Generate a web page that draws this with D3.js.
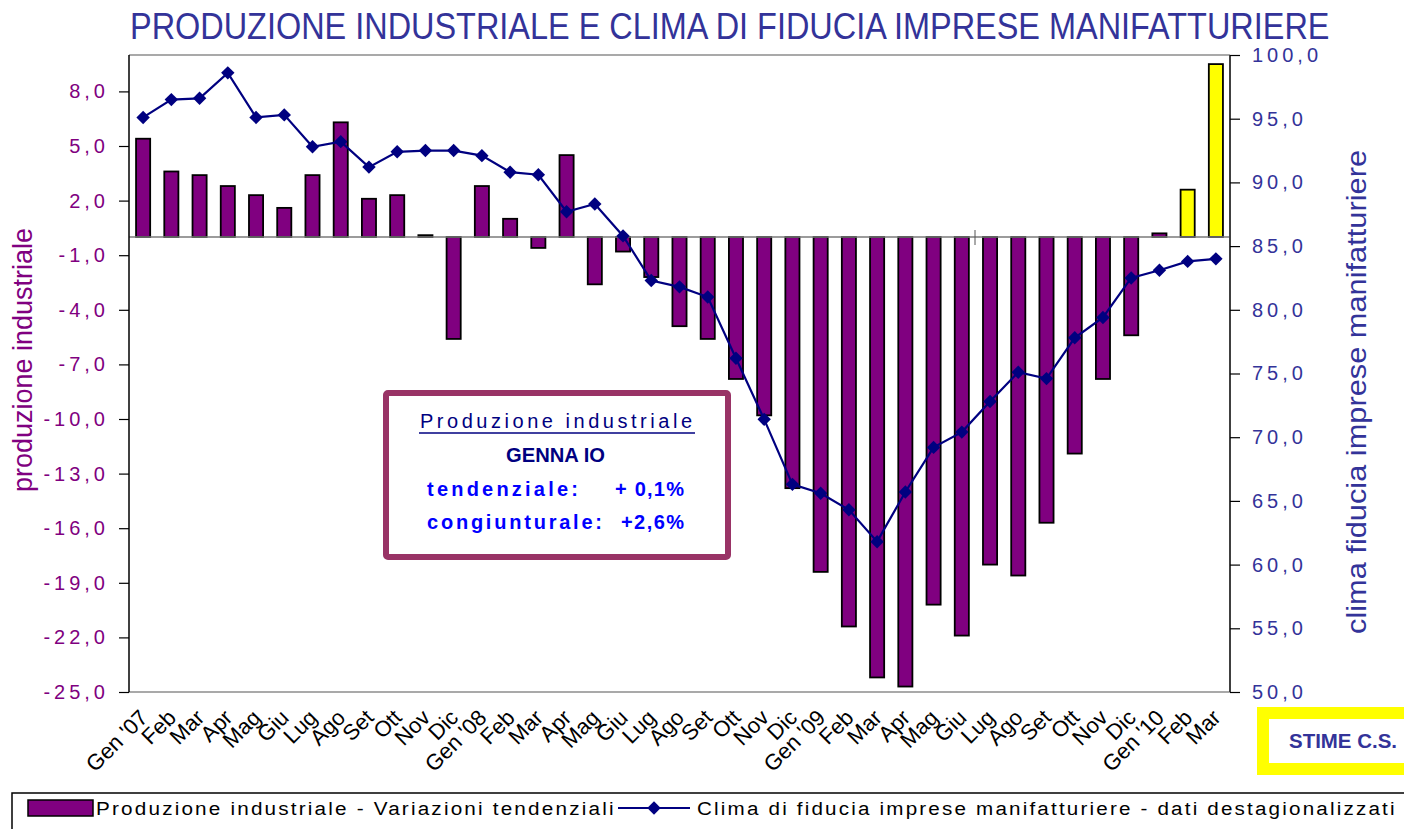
<!DOCTYPE html>
<html>
<head>
<meta charset="utf-8">
<script src="https://cdn.jsdelivr.net/npm/d3@7"></script>
<style>
  body { margin: 0; background: #fff; }
  text { font-family: "Liberation Sans", Arial, sans-serif; }
</style>
</head>
<body>
<div id="chart"></div>
<script>
// mesi (asse categorie)
const mesi = [
  "Gen '07", "Feb", "Mar", "Apr", "Mag", "Giu", "Lug", "Ago", "Set", "Ott", "Nov", "Dic",
  "Gen '08", "Feb", "Mar", "Apr", "Mag", "Giu", "Lug", "Ago", "Set", "Ott", "Nov", "Dic",
  "Gen '09", "Feb", "Mar", "Apr", "Mag", "Giu", "Lug", "Ago", "Set", "Ott", "Nov", "Dic",
  "Gen '10", "Feb", "Mar"
];

// produzione industriale - variazioni tendenziali
const produzione = [
  5.4, 3.6, 3.4, 2.8, 2.3, 1.6, 3.4, 6.3, 2.1, 2.3, 0.1, -5.6,
  2.8, 1.0, -0.6, 4.5, -2.6, -0.8, -2.2, -4.9, -5.6, -7.8, -9.8, -13.8,
  -18.4, -21.4, -24.2, -24.7, -20.2, -21.9, -18.0, -18.6, -15.7, -11.9, -7.8, -5.4,
  0.2, 2.6, 9.5
];

// clima di fiducia imprese manifatturiere
const clima = [
  95.1, 96.5, 96.6, 98.6, 95.1, 95.3, 92.8, 93.2, 91.2, 92.4, 92.5, 92.5,
  92.1, 90.8, 90.6, 87.7, 88.3, 85.8, 82.3, 81.8, 81.0, 76.2, 71.4, 66.3,
  65.6, 64.3, 61.8, 65.7, 69.2, 70.4, 72.8, 75.1, 74.6, 77.8, 79.4, 82.5,
  83.1, 83.8, 84.0
];

// ultimi due mesi sono stime C.S.
const stime = [37, 38];

const ticksSinistra = d3.range(-25, 9, 3);
const ticksDestra = d3.range(50, 101, 5);

const width = 1404, height = 829;
const plot = { left: 129, right: 1230, top: 55, bottom: 692 };

const it = d3.formatLocale({ decimal: ",", thousands: ".", grouping: [3], currency: ["", "€"], minus: "-" });
const fmt = it.format(".1f");

const svg = d3.select("#chart").append("svg")
  .attr("width", width)
  .attr("height", height);

// stringe orizzontalmente un testo fino alla larghezza voluta (font "narrow")
function fitWidth(sel, x0, y0, w) {
  const len = sel.node().getComputedTextLength();
  sel.attr("x", 0).attr("y", 0)
    .attr("transform", `translate(${x0},${y0}) scale(${w / len},1)`);
}

const x = d3.scaleBand()
  .domain(d3.range(mesi.length))
  .range([plot.left, plot.right])
  .paddingInner(0.5)
  .paddingOuter(0.25);

const yL = d3.scaleLinear().domain([-25, 10]).range([plot.bottom, plot.top]);
const yR = d3.scaleLinear().domain([50, 100]).range([plot.bottom, plot.top]);

// titolo
const titolo = svg.append("text")
  .attr("font-size", 37)
  .attr("fill", "#333399")
  .text("PRODUZIONE INDUSTRIALE E CLIMA DI FIDUCIA IMPRESE MANIFATTURIERE");
fitWidth(titolo, 130, 39, 1200);

// bordo area
svg.append("line")
  .attr("x1", plot.left).attr("x2", plot.right)
  .attr("y1", plot.top).attr("y2", plot.top)
  .attr("stroke", "#8c8c8c").attr("stroke-width", 1.5);
svg.append("line")
  .attr("x1", plot.left).attr("x2", plot.right)
  .attr("y1", plot.bottom).attr("y2", plot.bottom)
  .attr("stroke", "#8c8c8c").attr("stroke-width", 1.5);

// barre
svg.append("g")
  .selectAll("rect")
  .data(produzione)
  .join("rect")
    .attr("x", (d, i) => x(i))
    .attr("width", x.bandwidth())
    .attr("y", d => yL(Math.max(0, d)))
    .attr("height", d => Math.abs(yL(d) - yL(0)))
    .attr("fill", (d, i) => stime.includes(i) ? "#ffff00" : "#800080")
    .attr("stroke", "#000")
    .attr("stroke-width", 1.8);

// linea dello zero
svg.append("line")
  .attr("x1", plot.left).attr("x2", plot.right)
  .attr("y1", yL(0)).attr("y2", yL(0))
  .attr("stroke", "#7a7a7a").attr("stroke-width", 1.5);
svg.append("line")
  .attr("x1", 975).attr("x2", 975)
  .attr("y1", yL(0) - 7).attr("y2", yL(0) + 8)
  .attr("stroke", "#555").attr("stroke-width", 1);

// asse sinistro
svg.append("g")
  .attr("transform", `translate(${plot.left},0)`)
  .call(d3.axisLeft(yL).tickValues(ticksSinistra).tickFormat(fmt).tickSize(10).tickPadding(10))
  .call(g => g.select(".domain").attr("stroke", "#000").attr("stroke-width", 1.5).attr("d", `M0,${plot.top}V${plot.bottom}`))
  .call(g => g.selectAll(".tick line").attr("stroke", "#000").attr("stroke-width", 1.2))
  .call(g => g.selectAll(".tick text")
    .attr("fill", "#800080")
    .attr("font-size", 20)
    .style("letter-spacing", "4px")
    .style("font-family", "'Liberation Sans', sans-serif"));

// asse destro
svg.append("g")
  .attr("transform", `translate(${plot.right},0)`)
  .call(d3.axisRight(yR).tickValues(ticksDestra).tickFormat(fmt).tickSize(10).tickPadding(12))
  .call(g => g.select(".domain").attr("stroke", "#404040").attr("stroke-width", 2).attr("d", `M0,${plot.top}V${plot.bottom}`))
  .call(g => g.selectAll(".tick line").attr("stroke", "#000").attr("stroke-width", 1.2))
  .call(g => g.selectAll(".tick text")
    .attr("fill", "#333399")
    .attr("font-size", 20)
    .style("letter-spacing", "4px")
    .style("font-family", "'Liberation Sans', sans-serif"));

// etichette mesi
svg.append("g")
  .selectAll("text")
  .data(mesi)
  .join("text")
    .attr("transform", (d, i) => `translate(${x(i) + x.bandwidth() / 2 + 6},719) rotate(-45)`)
    .attr("text-anchor", "end")
    .attr("font-size", 22)
    .attr("fill", "#000")
    .text(d => d);

// linea clima
const line = d3.line()
  .x((d, i) => x(i) + x.bandwidth() / 2)
  .y(d => yR(d));

svg.append("path")
  .datum(clima)
  .attr("fill", "none")
  .attr("stroke", "#000080")
  .attr("stroke-width", 2.2)
  .attr("d", line);

svg.append("g")
  .selectAll("path")
  .data(clima)
  .join("path")
    .attr("transform", (d, i) => `translate(${x(i) + x.bandwidth() / 2},${yR(d)}) rotate(45)`)
    .attr("d", d3.symbol(d3.symbolSquare, 90))
    .attr("fill", "#000080");

// titoli assi
svg.append("text")
  .attr("transform", "translate(32,360) rotate(-90)")
  .attr("text-anchor", "middle")
  .attr("font-size", 27)
  .attr("fill", "#800080")
  .attr("textLength", 264)
  .attr("lengthAdjust", "spacingAndGlyphs")
  .text("produzione industriale");

svg.append("text")
  .attr("transform", "translate(1366,392) rotate(-90)")
  .attr("text-anchor", "middle")
  .attr("font-size", 27)
  .attr("fill", "#333399")
  .attr("textLength", 484)
  .attr("lengthAdjust", "spacingAndGlyphs")
  .text("clima fiducia imprese manifatturiere");

// riquadro dati gennaio
const box = svg.append("g");
box.append("rect")
  .attr("x", 386).attr("y", 393)
  .attr("width", 342).attr("height", 164)
  .attr("rx", 2)
  .attr("fill", "#fff")
  .attr("stroke", "#993366")
  .attr("stroke-width", 6);

box.append("text")
  .attr("x", 420).attr("y", 428)
  .attr("font-size", 20)
  .attr("fill", "#000080")
  .attr("textLength", 272)
  .attr("lengthAdjust", "spacing")
  .text("Produzione industriale");
box.append("line")
  .attr("x1", 419).attr("x2", 695)
  .attr("y1", 433).attr("y2", 433)
  .attr("stroke", "#000080").attr("stroke-width", 1.5);

box.append("text")
  .attr("x", 506).attr("y", 462)
  .attr("font-size", 20).attr("font-weight", "bold")
  .attr("fill", "#000080")
  .attr("textLength", 99)
  .attr("lengthAdjust", "spacingAndGlyphs")
  .text("GENNA IO");

const righe = [
  { label: "tendenziale:", x1: 427, w1: 151, val: "+ 0,1%", x2: 615, w2: 69, y: 496 },
  { label: "congiunturale:", x1: 427, w1: 175, val: "+2,6%", x2: 621, w2: 63, y: 529 }
];
righe.forEach(r => {
  box.append("text")
    .attr("x", r.x1).attr("y", r.y)
    .attr("font-size", 20).attr("font-weight", "bold")
    .attr("fill", "#0000ff")
    .attr("textLength", r.w1).attr("lengthAdjust", "spacing")
    .text(r.label);
  box.append("text")
    .attr("x", r.x2).attr("y", r.y)
    .attr("font-size", 20).attr("font-weight", "bold")
    .attr("fill", "#0000ff")
    .attr("textLength", r.w2).attr("lengthAdjust", "spacing")
    .text(r.val);
});

// riquadro stime
svg.append("rect")
  .attr("x", 1263).attr("y", 713)
  .attr("width", 160).attr("height", 56)
  .attr("fill", "#fff")
  .attr("stroke", "#ffff00")
  .attr("stroke-width", 12);
svg.append("text")
  .attr("x", 1289).attr("y", 748)
  .attr("font-size", 20).attr("font-weight", "bold")
  .attr("fill", "#333399")
  .attr("textLength", 108).attr("lengthAdjust", "spacingAndGlyphs")
  .text("STIME C.S.");

// legenda
const leg = svg.append("g");
leg.append("rect")
  .attr("x", 12).attr("y", 793)
  .attr("width", 1420).attr("height", 60)
  .attr("fill", "none")
  .attr("stroke", "#000").attr("stroke-width", 1.5);
leg.append("rect")
  .attr("x", 28).attr("y", 800)
  .attr("width", 65).attr("height", 16)
  .attr("fill", "#800080")
  .attr("stroke", "#000").attr("stroke-width", 1.5);
const leg1 = leg.append("text")
  .attr("font-size", 19)
  .style("letter-spacing", "2px")
  .text("Produzione industriale - Variazioni tendenziali");
fitWidth(leg1, 96, 815, 520);
leg.append("line")
  .attr("x1", 618).attr("x2", 690)
  .attr("y1", 808).attr("y2", 808)
  .attr("stroke", "#000080").attr("stroke-width", 2.2);
leg.append("path")
  .attr("transform", "translate(654,808) rotate(45)")
  .attr("d", d3.symbol(d3.symbolSquare, 90))
  .attr("fill", "#000080");
const leg2 = leg.append("text")
  .attr("font-size", 19)
  .style("letter-spacing", "2px")
  .text("Clima di fiducia imprese manifatturiere - dati destagionalizzati");
fitWidth(leg2, 697, 815, 700);
</script>
</body>
</html>
